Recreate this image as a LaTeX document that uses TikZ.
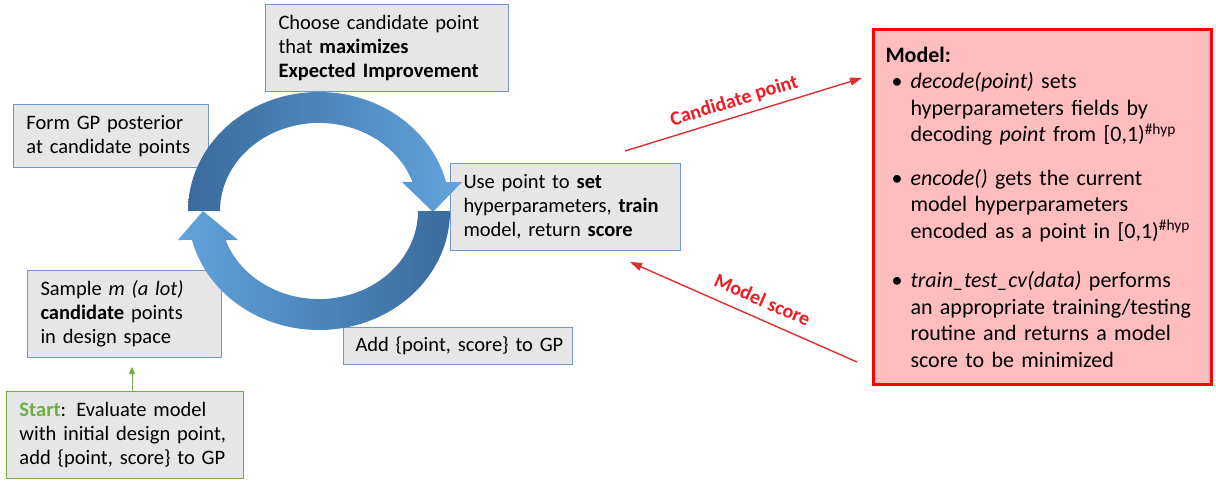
\documentclass[tikz,border=0pt]{standalone}
\usepackage{fontspec}
\setmainfont{Carlito}
\usetikzlibrary{arrows.meta}
\definecolor{boxgray}{HTML}{E6E6E6}
\definecolor{boxblue}{HTML}{7095D0}
\definecolor{startgreen}{HTML}{70AD47}
\definecolor{redline}{HTML}{DA3030}
\definecolor{redlabel}{HTML}{EE1C25}
\definecolor{modelfill}{HTML}{FFBDBD}
\definecolor{modelred}{HTML}{FF0000}
\definecolor{ringdark}{HTML}{3A6B9C}
\definecolor{ringlight}{HTML}{62A2DC}
\newcommand\mitem[1]{\hangindent=25pt\hangafter=1\noindent\hspace*{6pt}\makebox[19pt][l]{•}#1}
\begin{document}
\begin{tikzpicture}[x=1pt,y=-1pt,
  box/.style={draw=boxblue, fill=boxgray, line width=1pt, align=left, anchor=north west,
    inner xsep=13pt, inner ysep=0pt, font=\fontsize{20.5}{24}\selectfont},
  modelbox/.style={draw=modelred, fill=modelfill, line width=3pt, align=left, anchor=north west,
    inner xsep=12pt, inner ysep=0pt, text width=314pt, minimum height=355pt,
    font=\fontsize{22}{26.5}\selectfont},
  redarrow/.style={draw=redline, line width=1.4pt, -{Triangle[length=12pt,width=8pt]}},
  redlab/.style={text=redlabel, font=\fontsize{20}{24}\selectfont\bfseries, sloped, inner sep=0pt},
]
\fill[white] (0,0) rectangle (1216,482);
\useasboundingbox (0,0) rectangle (1216,482);

% boxes
\node[box, text width=217pt, minimum height=87pt] (choose) at (265,4)
  {Choose candidate point\\that \textbf{maximizes}\\\textbf{Expected Improvement}};
\node[box, text width=169pt, minimum height=63pt] (form) at (13,104)
  {Form GP posterior\\at candidate points};
\node[box, text width=204pt, minimum height=87pt] (use) at (450,163)
  {Use point to \textbf{set}\\hyperparameters, \textbf{train}\\model, return \textbf{score}};
\node[box, text width=168pt, minimum height=87pt] (sample) at (27,270)
  {Sample \textit{m (a lot)}\\\textbf{candidate} points\\in design space};
\node[box, inner xsep=12pt, text width=205pt, minimum height=37pt] (add) at (343,327)
  {\mbox{Add \{point, score\} to GP}};
\node[box, draw=startgreen, text width=211pt, minimum height=87pt] (start) at (6,391)
  {\textcolor{startgreen}{\textbf{Start}}: Evaluate model\\with initial design point,\\add \{point, score\} to GP};

% cycle arrows
\path[left color=ringdark, right color=ringlight]
  (188,211) arc[start angle=180, end angle=345.9, x radius=131, y radius=119]
  -- (462,182) -- (433,212) -- (402,182) -- (412.5,182)
  arc[start angle=340.8, end angle=180, x radius=99, y radius=88] -- cycle;
\path[left color=ringlight, right color=ringdark]
  (450,211) arc[start angle=0, end angle=165.9, x radius=131, y radius=119]
  -- (178,240) -- (203,211) -- (238,240) -- (225.5,240)
  arc[start angle=160.8, end angle=0, x radius=99, y radius=88] -- cycle;

% start arrow
\coordinate (gx) at (132,0);
\draw[startgreen, line width=1pt, -{Triangle[length=7pt,width=6pt]}, shorten >=9pt]
  (start.north -| gx) -- (sample.south -| gx);

% model box
\node[modelbox] (model) at (872,28) {%
\textbf{Model:}\par
\mitem{\textit{decode(point)} sets\newline hyperparameters fields by\newline decoding \textit{point} from [0,1)\textsuperscript{\#hyp}}\par
\vspace{17pt}
\mitem{\textit{encode()} gets the current\newline model hyperparameters\newline encoded as a point in [0,1)\textsuperscript{\#hyp}}\par
\vspace{23pt}
\mitem{\textit{train\_test\_cv(data)} performs\newline an appropriate training/testing\newline routine and returns a model\newline score to be minimized}\par};

% red arrows
\coordinate (cpfrom) at (625,151);
\coordinate (cpto) at (862,78);
\coordinate (msfrom) at (857,362);
\coordinate (msto) at (630,262);
\draw[redarrow] (cpfrom) -- node[redlab, pos=0.48, above=6pt] (cplab) {Candidate point} (cpto);
\draw[redarrow] (msfrom) -- node[redlab, pos=0.45, above=11pt] (mslab) {Model score} (msto);
\end{tikzpicture}
\end{document}
